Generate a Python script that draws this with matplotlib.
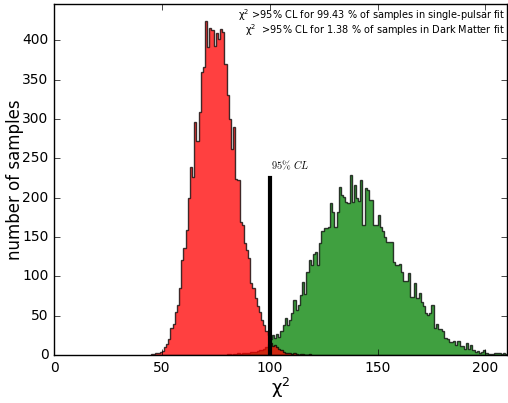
"""
Chi-squared distributions of the pulsar-timing samples:
single-pulsar fit vs Dark Matter fit, with the 95% CL threshold.
"""

import numpy as np
import matplotlib
matplotlib.use("Agg")
import matplotlib.pyplot as plt

plt.style.use("classic")
plt.rcParams["mathtext.fontset"] = "dejavusans"
plt.rcParams["mathtext.default"] = "regular"

# bin counts, one-unit bins
red_start = 45
red_counts = [1, 1, 3, 3, 4, 5, 10, 14, 21, 34, 40, 55, 64, 85, 121, 136, 159,
              200, 239, 226, 296, 272, 309, 360, 366, 424, 392, 416, 413, 393,
              409, 402, 414, 411, 370, 330, 300, 262, 290, 224, 222, 169, 165,
              142, 134, 123, 91, 85, 72, 62, 55, 45, 38, 30, 25, 15, 12, 13,
              10, 8, 7, 4, 2, 3, 2, 1, 2, 1, 0, 1, 1, 0, 0, 1]

green_start = 80
green_counts = [1, 1, 0, 1, 1, 2, 1, 2, 2, 3, 3, 4, 4, 4, 5, 6, 7, 8, 10, 14,
                20, 25, 22, 27, 23, 30, 38, 47, 38, 45, 53, 70, 57, 64, 76, 93,
                78, 106, 121, 114, 129, 131, 114, 142, 157, 161, 161, 163, 193,
                182, 163, 182, 214, 203, 201, 195, 193, 229, 195, 216, 200, 196,
                222, 165, 212, 210, 197, 197, 165, 165, 178, 163, 157, 150, 144,
                144, 144, 118, 115, 115, 116, 106, 94, 94, 104, 74, 74, 91, 72,
                79, 68, 62, 53, 51, 53, 63, 34, 39, 33, 33, 30, 22, 20, 17, 17,
                18, 13, 18, 11, 11, 8, 15, 8, 13, 6, 4, 5, 3, 4, 6, 2, 1, 1, 1,
                3, 2, 3, 1, 2, 1]

cl_value = 100
cl_height = 225
frac_pulsar = 99.43
frac_dm = 1.38

red_edges = red_start + np.arange(len(red_counts) + 1)
green_edges = green_start + np.arange(len(green_counts) + 1)

fig = plt.figure(figsize=(5.08, 4.03), dpi=100, facecolor="white")
ax = fig.add_axes([0.1063, 0.119, 0.8917, 0.871])

ax.hist(green_edges[:-1], bins=green_edges, weights=green_counts,
        histtype="stepfilled", color="green", edgecolor="k", lw=1, alpha=0.75)
ax.hist(red_edges[:-1], bins=red_edges, weights=red_counts,
        histtype="stepfilled", color="red", edgecolor="k", lw=1, alpha=0.75)

ax.plot([cl_value, cl_value], [0, cl_height], color="k", lw=3)
ax.text(cl_value + 0.5, cl_height + 8, r"$\mathrm{95\%}\ \mathit{CL}$",
        fontsize=7.5, math_fontfamily="cm", ha="left", va="bottom")

ax.text(0.995, 0.956,
        f"$\\chi^2$ >95% CL for {frac_pulsar} % of samples in single-pulsar fit",
        transform=ax.transAxes, ha="right", va="baseline", fontsize=7)
ax.text(0.995, 0.915,
        f"$\\chi^2$  >95% CL for {frac_dm} % of samples in Dark Matter fit",
        transform=ax.transAxes, ha="right", va="baseline", fontsize=7)

ax.set_xlim(0, 210)
ax.set_ylim(0, 446)
ax.set_xticks(np.arange(0, 201, 50))
ax.set_yticks(np.arange(0, 401, 50))
ax.tick_params(labelsize=10)
ax.set_xlabel(r"$\chi^2$", fontsize=13)
ax.set_ylabel("number of samples", fontsize=12)
ax.xaxis.set_label_coords(0.5, -0.058)
ax.yaxis.set_label_coords(-0.066, 0.5)

fig.savefig("out.png", dpi=100, facecolor="white")
